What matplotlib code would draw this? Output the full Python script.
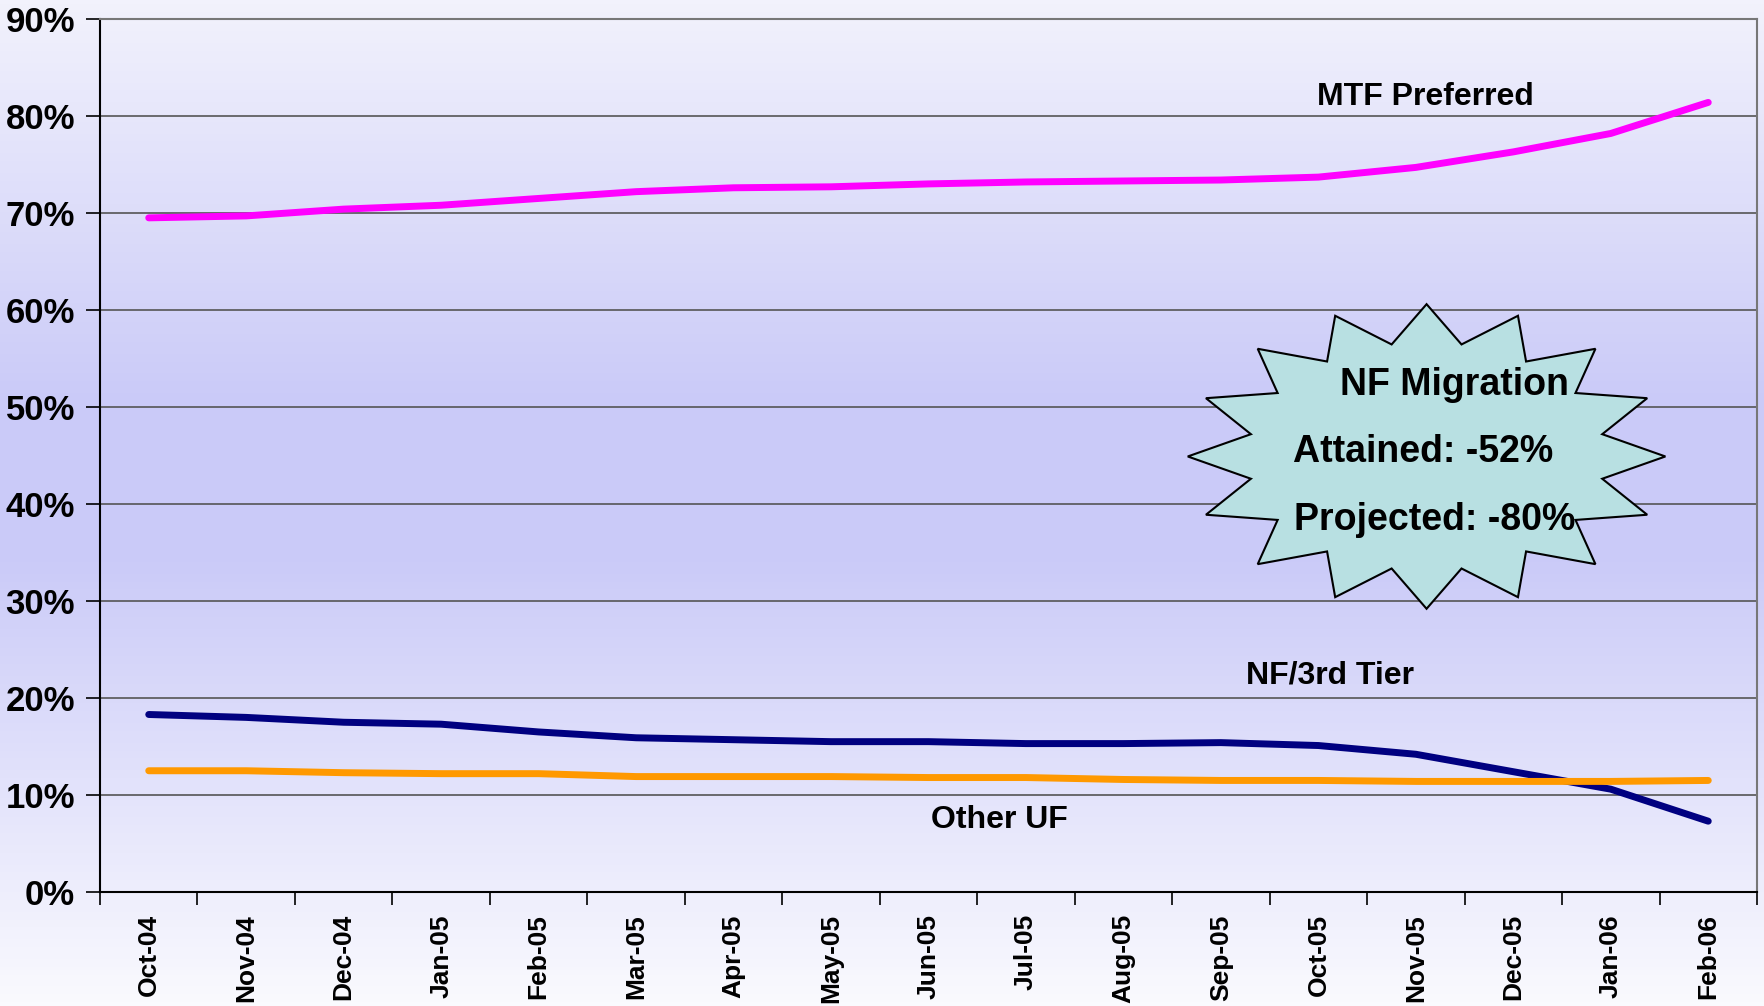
import numpy as np
import matplotlib
matplotlib.use('Agg')
import matplotlib.pyplot as plt
from matplotlib.colors import LinearSegmentedColormap
from matplotlib.patches import Polygon

plt.rcParams['font.family'] = ['Liberation Sans', 'DejaVu Sans']
plt.rcParams['font.weight'] = 'bold'

months = ['Oct-04', 'Nov-04', 'Dec-04', 'Jan-05', 'Feb-05', 'Mar-05', 'Apr-05',
          'May-05', 'Jun-05', 'Jul-05', 'Aug-05', 'Sep-05', 'Oct-05', 'Nov-05',
          'Dec-05', 'Jan-06', 'Feb-06']
mtf_preferred = [69.5, 69.7, 70.4, 70.8, 71.5, 72.2, 72.6, 72.7, 73.0, 73.2,
                 73.3, 73.4, 73.7, 74.7, 76.3, 78.2, 81.4]
nf_3rd_tier = [18.3, 18.0, 17.5, 17.3, 16.5, 15.9, 15.7, 15.5, 15.5, 15.3,
               15.3, 15.4, 15.1, 14.2, 12.4, 10.6, 7.3]
other_uf = [12.5, 12.5, 12.3, 12.2, 12.2, 11.9, 11.9, 11.9, 11.8, 11.8,
            11.6, 11.5, 11.5, 11.4, 11.4, 11.4, 11.5]
y_ticks = [0, 10, 20, 30, 40, 50, 60, 70, 80, 90]

fig = plt.figure(figsize=(17.64, 10.06), dpi=100)

# background gradient over the whole figure
bg = fig.add_axes([0, 0, 1, 1], zorder=-10)
cmap = LinearSegmentedColormap.from_list(
    'bg', [(0.0, '#fafafe'), (0.45, '#cacaf8'), (0.6, '#cacaf8'), (1.0, '#f2f2fc')])
grad = np.linspace(0, 1, 256).reshape(-1, 1)
bg.imshow(grad, aspect='auto', cmap=cmap, origin='lower', extent=[0, 1, 0, 1])
bg.set_axis_off()

ax = fig.add_axes([100 / 1764, 1 - 892 / 1006, 1657 / 1764, 873 / 1006])
ax.patch.set_alpha(0)

x = np.arange(len(months))
ax.plot(x, mtf_preferred, color='#ff00ff', lw=5, solid_capstyle='round', zorder=3)
ax.plot(x, nf_3rd_tier, color='#000080', lw=5, solid_capstyle='round', zorder=3)
ax.plot(x, other_uf, color='#ff9900', lw=5, solid_capstyle='round', zorder=3)

ax.set_xlim(-0.5, len(months) - 0.5)
ax.set_ylim(0, 90)
ax.set_yticks(y_ticks)
ax.set_yticklabels(['%d%%' % v for v in y_ticks], fontsize=25, fontweight='bold')
ax.set_xticks(x)
ax.set_xticklabels(months, rotation=90, fontsize=19, fontweight='bold')
ax.set_xticks(np.arange(-0.5, len(months)), minor=True)
ax.tick_params(axis='x', which='major', length=0, pad=16)
ax.tick_params(axis='x', which='minor', length=9, width=1.2, direction='out')
ax.tick_params(axis='y', length=10, width=1.2, direction='out', pad=8)
ax.grid(axis='y', color='#555555', lw=1.2)
ax.set_axisbelow(True)
for s in ['left', 'bottom']:
    ax.spines[s].set_linewidth(1.5)
for s in ['top', 'right']:
    ax.spines[s].set_color('#777777')
    ax.spines[s].set_linewidth(1.5)

# series labels
ax.text(13.10, 82.0, 'MTF Preferred', fontsize=23, fontweight='bold', ha='center', va='center')
ax.text(12.12, 22.3, 'NF/3rd Tier', fontsize=23, fontweight='bold', ha='center', va='center')
ax.text(8.73, 7.4, 'Other UF', fontsize=23, fontweight='bold', ha='center', va='center')

# starburst callout
cx, cy, rx, ry = 13.11, 44.9, 2.45, 15.7
n = 16
ang = np.pi / 2 - np.arange(2 * n) * np.pi / n
rad = np.where(np.arange(2 * n) % 2 == 0, 1.0, 0.75)
pts = np.column_stack([cx + rx * rad * np.cos(ang), cy + ry * rad * np.sin(ang)])
ax.add_patch(Polygon(pts, closed=True, facecolor='#b8e0e2', edgecolor='black',
                     lw=1.5, zorder=4, clip_on=False))
ax.text(13.40, 52.3, 'NF Migration', fontsize=27, fontweight='bold', ha='center', va='center', zorder=5)
ax.text(13.07, 45.4, 'Attained: -52%', fontsize=27, fontweight='bold', ha='center', va='center', zorder=5)
ax.text(13.19, 38.4, 'Projected: -80%', fontsize=27, fontweight='bold', ha='center', va='center', zorder=5)

plt.savefig('out.png', dpi=100)
